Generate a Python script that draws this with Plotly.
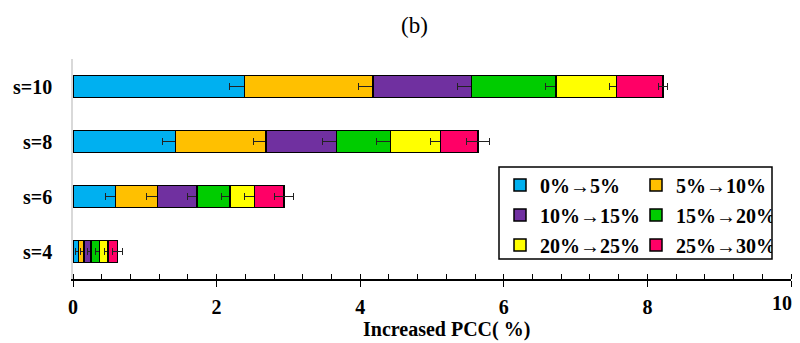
import plotly.graph_objects as go

categories = ["s=4", "s=6", "s=8", "s=10"]
series_names = ["0%→5%", "5%→10%", "10%→15%", "15%→20%", "20%→25%", "25%→30%"]
colors = ["#00B0F0", "#FFC000", "#7030A0", "#00CC00", "#FFFF00", "#FF0066"]

# segment values per series, ordered as categories (s=4, s=6, s=8, s=10)
seg_0_5 = [0.08, 0.59, 1.43, 2.39]
seg_5_10 = [0.07, 0.59, 1.26, 1.79]
seg_10_15 = [0.10, 0.55, 0.98, 1.37]
seg_15_20 = [0.12, 0.46, 0.75, 1.18]
seg_20_25 = [0.12, 0.34, 0.70, 0.84]
seg_25_30 = [0.13, 0.41, 0.52, 0.65]

err_0_5 = [0.04, 0.14, 0.18, 0.21]
err_5_10 = [0.04, 0.15, 0.18, 0.21]
err_10_15 = [0.05, 0.13, 0.20, 0.20]
err_15_20 = [0.05, 0.12, 0.20, 0.15]
err_20_25 = [0.05, 0.14, 0.14, 0.10]
err_25_30 = [0.07, 0.13, 0.16, 0.06]

segments = [seg_0_5, seg_5_10, seg_10_15, seg_15_20, seg_20_25, seg_25_30]
errors = [err_0_5, err_5_10, err_10_15, err_15_20, err_20_25, err_25_30]

x_ticks = [0, 2, 4, 6, 8, 10]
x_ticktext = ["0", "2", "4", "6", "8", "10"]
x_title = "Increased PCC( %)"
panel_label = "(b)"

FONT = "Liberation Serif"
legend_ids = ["legend", "legend", "legend2", "legend2", "legend3", "legend3"]

fig = go.Figure()
for name, col, vals, errs, lg in zip(series_names, colors, segments, errors, legend_ids):
    fig.add_trace(go.Bar(
        y=categories, x=vals, name=name, orientation="h",
        marker=dict(color=col, line=dict(color="black", width=1.5)),
        error_x=dict(type="data", array=errs, visible=True, color="#222222",
                     thickness=1, width=3.5),
        legend=lg,
    ))

# page offset from the default body margin
OFF = 8
W, H = 800 - OFF, 343 - OFF
# plot area in page pixels: x 73..791, y 59..279
L, R, T, B = 73 - OFF, 800 - 791, 59 - OFF, 343 - 279
pw = W - L - R
ph = H - T - B

def px_x(p):
    return (p - OFF - L) / pw

def px_y(p):
    return (H - B - (p - OFF)) / ph

legend_common = dict(
    orientation="h", xanchor="left", yanchor="middle",
    bgcolor="rgba(0,0,0,0)", borderwidth=0,
    font=dict(family=FONT, size=20, color="black", weight="bold"),
    entrywidth=91, entrywidthmode="pixels", traceorder="normal",
    itemclick=False, itemdoubleclick=False,
)

tick_font = dict(family=FONT, size=20, color="black", weight="bold")

# the last tick label would be clipped at the page edge: draw it as an annotation
shown_ticktext = x_ticktext[:-1] + [""]

fig.update_layout(
    width=W, height=H,
    margin=dict(l=L, r=R, t=T, b=B, autoexpand=False),
    plot_bgcolor="white", paper_bgcolor="white",
    barmode="stack", bargap=0.6,
    showlegend=True,
    legend=dict(x=px_x(500), y=px_y(185), **legend_common),
    legend2=dict(x=px_x(500), y=px_y(215), **legend_common),
    legend3=dict(x=px_x(500), y=px_y(245), **legend_common),
    xaxis=dict(
        range=[0, 10], tickvals=x_ticks, ticktext=shown_ticktext,
        ticks="outside", ticklen=6, tickwidth=1.2, tickcolor="black",
        showline=True, linecolor="black", linewidth=1.5,
        showgrid=False, zeroline=False, automargin=False,
        tickfont=tick_font,
        ticklabelstandoff=3,
        minor=dict(dtick=0.4, tick0=0, ticks="inside", ticklen=5,
                   tickcolor="black", tickwidth=1.2, showgrid=False),
    ),
    xaxis2=dict(
        range=[0, 10], tickvals=x_ticks, overlaying="x", anchor="y",
        side="bottom", ticks="inside", ticklen=5, tickwidth=1.2,
        tickcolor="black", showticklabels=False, showline=False,
        showgrid=False, zeroline=False, automargin=False,
    ),
    yaxis=dict(
        range=[-0.5, 3.5], categoryorder="array", categoryarray=categories,
        showline=True, linecolor="#d9d9d9", linewidth=1.5,
        ticks="", showgrid=False, zeroline=False, automargin=False,
        tickfont=tick_font,
        ticklabelstandoff=15,
    ),
    annotations=[
        dict(
            text=panel_label, x=px_x(414), y=px_y(25), xref="paper", yref="paper",
            showarrow=False, xanchor="center", yanchor="middle",
            font=dict(family=FONT, size=23, color="black"),
        ),
        dict(
            text=x_ticktext[-1], x=x_ticks[-1], y=px_y(303), xref="x", yref="paper",
            showarrow=False, xanchor="right", yanchor="middle", xshift=3,
            font=tick_font,
        ),
        dict(
            text=x_title, x=px_x(446), y=px_y(329), xref="paper", yref="paper",
            showarrow=False, xanchor="center", yanchor="middle",
            font=dict(family=FONT, size=20, color="black", weight="bold"),
        ),
    ],
    shapes=[dict(
        type="rect", xref="paper", yref="paper",
        x0=px_x(499), x1=px_x(772), y0=px_y(259), y1=px_y(167),
        line=dict(color="black", width=1.5), fillcolor="rgba(0,0,0,0)",
    )],
)

fig.write_html("out.html")
